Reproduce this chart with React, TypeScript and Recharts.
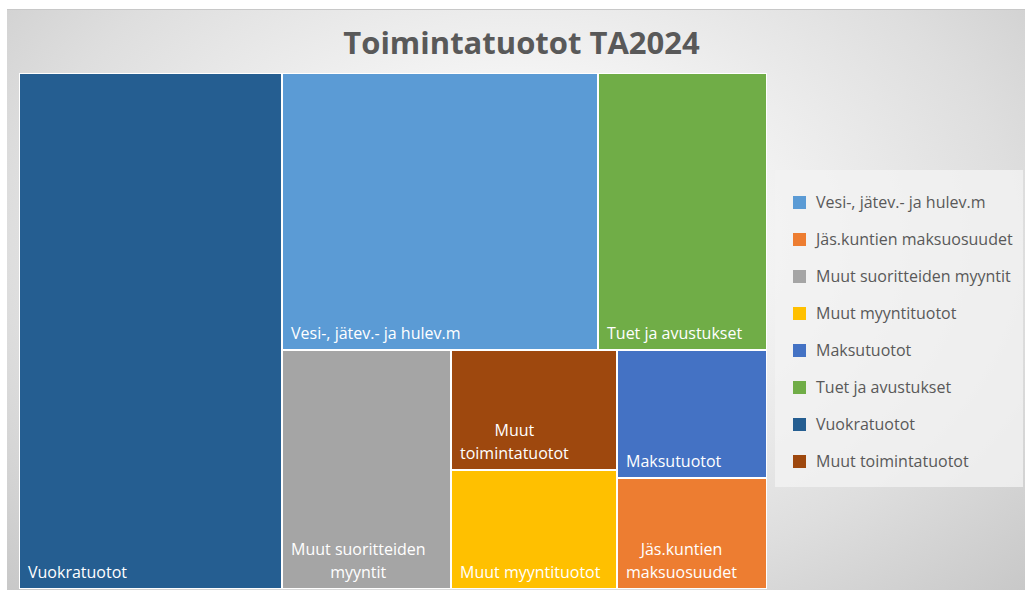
import { Treemap } from "recharts";

// values (relative units)
const NAMES = [
  "Vuokratuotot",
  "Vesi-, jätev.- ja hulev.m",
  "Tuet ja avustukset",
  "Muut suoritteiden myyntit",
  "Muut toimintatuotot",
  "Muut myyntituotot",
  "Maksutuotot",
  "Jäs.kuntien maksuosuudet",
];
const VALUES = [351.6, 226.6, 121.6, 104.5, 51.7, 51.2, 49.4, 43.2];
const COLORS = ["#255e91", "#5b9bd5", "#70ad47", "#a5a5a5", "#9e480e", "#ffc000", "#4472c4", "#ed7d31"];
// how the labels wrap inside the cells
const LABEL_LINES = [
  ["Vuokratuotot"],
  ["Vesi-, jätev.- ja hulev.m"],
  ["Tuet ja avustukset"],
  ["Muut suoritteiden", "myyntit"],
  ["Muut", "toimintatuotot"],
  ["Muut myyntituotot"],
  ["Maksutuotot"],
  ["Jäs.kuntien", "maksuosuudet"],
];
// legend order as in the original
const LEGEND_ORDER = [
  "Vesi-, jätev.- ja hulev.m",
  "Jäs.kuntien maksuosuudet",
  "Muut suoritteiden myyntit",
  "Muut myyntituotot",
  "Maksutuotot",
  "Tuet ja avustukset",
  "Vuokratuotot",
  "Muut toimintatuotot",
];

const FONT = "'Open Sans', 'Noto Sans', sans-serif";

const leaf = (i: number) => ({ name: NAMES[i], size: VALUES[i], color: COLORS[i], idx: i });

// grouping so that the squarify layout follows the original block structure
const data = [
  leaf(0),
  {
    name: "rest",
    children: [
      { name: "top", children: [leaf(1), leaf(2)] },
      {
        name: "bottom",
        children: [
          leaf(3),
          { name: "mid", children: [leaf(4), leaf(5)] },
          { name: "right", children: [leaf(6), leaf(7)] },
        ],
      },
    ],
  },
];

let ctx: CanvasRenderingContext2D | null = null;
function textWidth(s: string) {
  if (!ctx) ctx = document.createElement("canvas").getContext("2d");
  if (!ctx) return s.length * 8;
  ctx.font = `16px ${FONT}`;
  return ctx.measureText(s).width;
}

const renderCell = (props: any) => {
  const { x, y, width, height, color, idx } = props;
  if (!color) return null;
  const lines: string[] = LABEL_LINES[idx];
  const x0 = x + 9;
  const lastBase = y + height - 11;
  const blockW = Math.max(...lines.map(textWidth));
  return (
    <g>
      <rect x={x} y={y} width={width} height={height} fill={color} stroke="#fff" strokeWidth={2} />
      {lines.map((l, i) => (
        <text
          key={i}
          x={lines.length > 1 ? x0 + blockW / 2 : x0}
          y={lastBase - (lines.length - 1 - i) * 23.5}
          textAnchor={lines.length > 1 ? "middle" : "start"}
          fill="#fff"
          stroke="none"
          fontWeight={400}
          fontSize={16}
          fontFamily={FONT}
        >
          {l}
        </text>
      ))}
    </g>
  );
};

export default function App() {
  return (
    <div style={{ position: "absolute", left: 0, top: 0, width: 1025, height: 590, background: "#fff", overflow: "hidden" }}>
      <div
        style={{
          position: "absolute",
          left: 7,
          top: 9,
          width: 1018,
          height: 581,
          borderTop: "1px solid #c8c8c8",
          background: "radial-gradient(ellipse at 50% 40%, #ffffff 0%, #f6f6f6 30%, #dedede 70%, #c8c8c8 100%)",
        }}
      />
      <div
        style={{
          position: "absolute",
          left: 0,
          width: 1043,
          top: 20,
          textAlign: "center",
          fontFamily: FONT,
          fontWeight: 700,
          fontSize: 31,
          color: "#595959",
          lineHeight: "44px",
        }}
      >
        Toimintatuotot TA2024
      </div>
      <div style={{ position: "absolute", left: 19, top: 73 }}>
        <Treemap
          width={748}
          height={516}
          data={data}
          dataKey="size"
          aspectRatio={1}
          stroke="#fff"
          isAnimationActive={false}
          content={renderCell}
        />
      </div>
      <div
        style={{
          position: "absolute",
          left: 775,
          top: 170,
          width: 248,
          height: 317,
          background: "rgba(242,242,242,0.8)",
          fontFamily: FONT,
          fontSize: 16,
          color: "#595959",
        }}
      >
        {LEGEND_ORDER.map((n, i) => (
          <div
            key={n}
            style={{ position: "absolute", left: 18, top: 21 + i * 37, height: 22, display: "flex", alignItems: "center", whiteSpace: "nowrap" }}
          >
            <span style={{ width: 13, height: 13, background: COLORS[NAMES.indexOf(n)], marginRight: 10, display: "inline-block" }} />
            {n}
          </div>
        ))}
      </div>
    </div>
  );
}
